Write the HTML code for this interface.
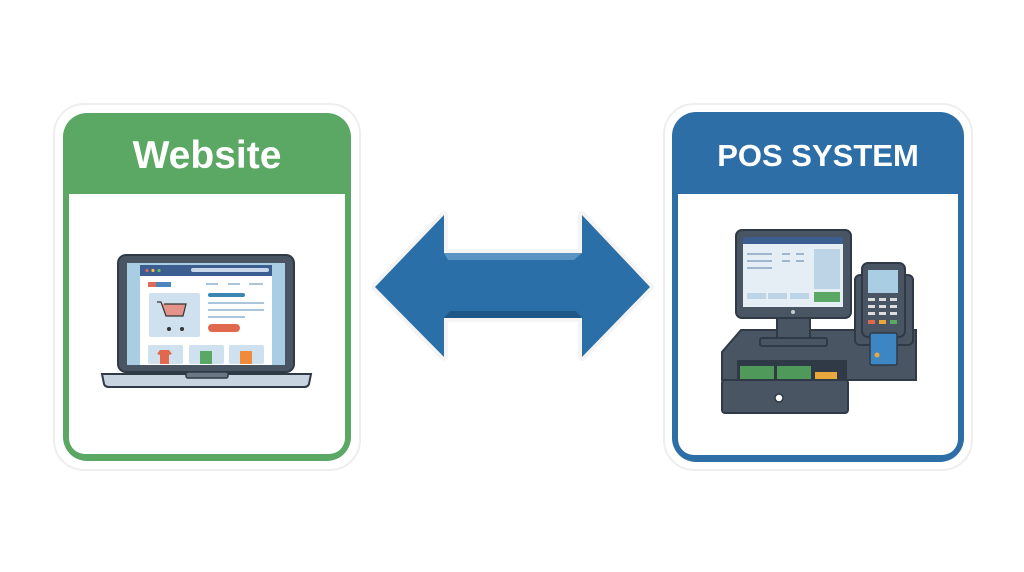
<!DOCTYPE html>
<html><head><meta charset="utf-8"><style>
html,body{margin:0;padding:0;background:#fff;width:1024px;height:572px;overflow:hidden}
</style></head><body>
<svg width="1024" height="572" viewBox="0 0 1024 572" xmlns="http://www.w3.org/2000/svg">
<!-- Left card -->
<rect x="54" y="104" width="306" height="366" rx="30" fill="#fff" stroke="#eee" stroke-width="2"/>
<rect x="63" y="113" width="288" height="348" rx="24" fill="#5ba764"/>
<rect x="69" y="194" width="276" height="260" rx="16" fill="#fff"/>
<rect x="69" y="194" width="276" height="20" fill="#fff"/>
<text x="207" y="168" text-anchor="middle" font-family="Liberation Sans, sans-serif" font-weight="bold" font-size="39" fill="#fff">Website</text>
<!-- Laptop -->
<rect x="118" y="255" width="176" height="117" rx="8" fill="#4a5563" stroke="#2f3a46" stroke-width="2"/>
<rect x="127" y="263" width="158" height="102" fill="#a9cde3"/>
<rect x="140" y="265" width="132" height="100" fill="#fff"/>
<rect x="140" y="265" width="132" height="11" fill="#3c5d8f"/>
<circle cx="147" cy="270.5" r="1.6" fill="#e06b5a"/><circle cx="153" cy="270.5" r="1.6" fill="#e8c34a"/><circle cx="159" cy="270.5" r="1.6" fill="#6fba6a"/>
<rect x="191" y="268" width="78" height="4" rx="2" fill="#c8d8ea"/>
<rect x="148" y="282" width="8" height="5" fill="#e06b5a"/><rect x="156" y="282" width="15" height="5" fill="#4b86c0"/>
<rect x="206" y="283" width="12" height="2" fill="#a9c6dc"/><rect x="228" y="283" width="12" height="2" fill="#a9c6dc"/><rect x="249" y="283" width="14" height="2" fill="#a9c6dc"/>
<rect x="149" y="293" width="51" height="44" rx="2" fill="#cfe1ee"/>
<path d="M157 302h4l5 14h17l3-12h-22" fill="#e3938a" stroke="#333" stroke-width="1.2"/>
<circle cx="169" cy="329" r="2" fill="#333"/><circle cx="182" cy="329" r="2" fill="#333"/>
<rect x="208" y="293" width="37" height="4" rx="2" fill="#3c86b4"/>
<rect x="208" y="302" width="56" height="2" fill="#a9c6dc"/><rect x="208" y="309" width="56" height="2" fill="#a9c6dc"/><rect x="208" y="316" width="37" height="2" fill="#a9c6dc"/>
<rect x="208" y="324" width="32" height="8" rx="4" fill="#e0684f"/>
<rect x="148" y="345" width="35" height="19" rx="2" fill="#cfe1ee"/><rect x="189" y="345" width="35" height="19" rx="2" fill="#cfe1ee"/><rect x="229" y="345" width="35" height="19" rx="2" fill="#cfe1ee"/>
<path d="M160 350h9l3 4-3 1v9h-9v-9l-3-1z" fill="#e0684f"/>
<rect x="200" y="351" width="12" height="13" fill="#5ba764"/>
<rect x="240" y="351" width="12" height="13" fill="#f08b3c"/>
<path d="M102 374h209l-2 10q-1 3-5 3H109q-4 0-5-3z" fill="#c8d4df" stroke="#2f3a46" stroke-width="2"/>
<rect x="186" y="372" width="42" height="6" rx="2" fill="#6b7785" stroke="#2f3a46" stroke-width="1.5"/>

<!-- Right card -->
<rect x="664" y="104" width="308" height="366" rx="30" fill="#fff" stroke="#eee" stroke-width="2"/>
<rect x="672" y="112" width="292" height="350" rx="24" fill="#2e6ea6"/>
<rect x="678" y="194" width="280" height="261" rx="16" fill="#fff"/>
<rect x="678" y="194" width="280" height="20" fill="#fff"/>
<text x="818" y="166" text-anchor="middle" font-family="Liberation Sans, sans-serif" font-weight="bold" font-size="31" fill="#fff">POS SYSTEM</text>
<!-- POS -->
<path d="M741 330h175l0 50h-194v-28z" fill="#4a5563" stroke="#2f3a46" stroke-width="2"/>
<rect x="777" y="318" width="33" height="20" fill="#4a5563" stroke="#2f3a46" stroke-width="2"/>
<rect x="760" y="338" width="67" height="8" rx="2" fill="#4a5563" stroke="#2f3a46" stroke-width="2"/>
<rect x="736" y="230" width="115" height="88" rx="6" fill="#4a5563" stroke="#2f3a46" stroke-width="2"/>
<rect x="743" y="237" width="100" height="70" fill="#e6eef5"/>
<rect x="743" y="237" width="100" height="7" fill="#3c5d8f"/>
<rect x="814" y="249" width="26" height="40" fill="#bcd4e6"/>
<rect x="814" y="292" width="26" height="10" fill="#5ba764"/>
<rect x="747" y="293" width="19" height="6" fill="#bcd4e6"/><rect x="768" y="293" width="19" height="6" fill="#bcd4e6"/><rect x="790" y="293" width="19" height="6" fill="#bcd4e6"/>
<rect x="747" y="253" width="25" height="2" fill="#9fb6cc"/><rect x="747" y="260" width="25" height="2" fill="#9fb6cc"/><rect x="747" y="267" width="25" height="2" fill="#9fb6cc"/>
<rect x="782" y="253" width="8" height="2" fill="#9fb6cc"/><rect x="796" y="253" width="8" height="2" fill="#9fb6cc"/><rect x="782" y="260" width="8" height="2" fill="#9fb6cc"/><rect x="796" y="260" width="8" height="2" fill="#9fb6cc"/>
<circle cx="793" cy="312" r="2" fill="#ccc"/>
<rect x="737" y="360" width="110" height="22" fill="#2f3a46"/>
<rect x="740" y="366" width="34" height="14" fill="#4f9a5a"/><rect x="777" y="366" width="34" height="14" fill="#4f9a5a"/>
<rect x="815" y="372" width="22" height="8" fill="#e8a83c"/>
<rect x="722" y="380" width="126" height="33" rx="3" fill="#4a5563" stroke="#2f3a46" stroke-width="2"/>
<circle cx="779" cy="398" r="4" fill="#fff" stroke="#2f3a46" stroke-width="1.5"/>
<rect x="855" y="275" width="58" height="70" rx="5" fill="#4a5563" stroke="#2f3a46" stroke-width="2"/>
<rect x="862" y="263" width="43" height="74" rx="6" fill="#4a5563" stroke="#2f3a46" stroke-width="2"/>
<rect x="868" y="270" width="30" height="23" fill="#a9cde3"/>
<g fill="#ddd"><rect x="868" y="298" width="7" height="3"/><rect x="879" y="298" width="7" height="3"/><rect x="890" y="298" width="7" height="3"/><rect x="868" y="305" width="7" height="3"/><rect x="879" y="305" width="7" height="3"/><rect x="890" y="305" width="7" height="3"/><rect x="868" y="312" width="7" height="3"/><rect x="879" y="312" width="7" height="3"/><rect x="890" y="312" width="7" height="3"/></g>
<rect x="868" y="320" width="7" height="4" fill="#e0684f"/><rect x="879" y="320" width="7" height="4" fill="#e8a83c"/><rect x="890" y="320" width="7" height="4" fill="#5ba764"/>
<rect x="870" y="333" width="27" height="32" rx="2" fill="#3c86c4" stroke="#2f3a46" stroke-width="1.5"/>
<circle cx="877" cy="355" r="2.5" fill="#e8a83c"/>

<!-- Arrow -->
<path d="M375 287L444 215L444 253L582 253L582 215L650 287L582 357L582 318L444 318L444 357Z" fill="#2b6fa8" stroke="#f4f4f4" stroke-width="8" stroke-linejoin="round"/>
<path d="M375 287L444 215L444 253L582 253L582 215L650 287L582 357L582 318L444 318L444 357Z" fill="#2b6fa8"/>
<path d="M444 253L582 253L574 260L448 260Z" fill="#5a94c2"/>
<path d="M444 318L582 318L576 311L450 311Z" fill="#1f5886"/>
</svg>
</body></html>
